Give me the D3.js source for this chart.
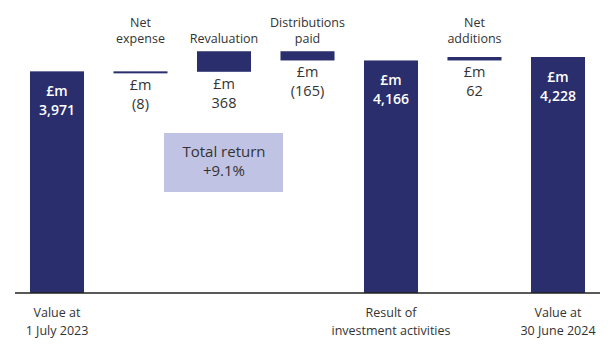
<!DOCTYPE html>
<html>
<head>
<meta charset="utf-8">
<script src="https://cdn.jsdelivr.net/npm/d3@7"></script>
<style>
  body { margin: 0; background: white; }
  text { font-family: "Open Sans", sans-serif; }
</style>
</head>
<body>
<div id="container"></div>
<script>
let w = 616;
let h = 352;

// data
let steps = ["start", "expense", "reval", "dist", "result", "additions", "end"];
let values = [3971, -8, 368, -165, 4166, 62, 4228];
let isTotal = [true, false, false, false, true, false, true];
let topLabels = [[], ["Net", "expense"], ["Revaluation"], ["Distributions", "paid"], [], ["Net", "additions"], []];
let valueLabels = ["3,971", "(8)", "368", "(165)", "4,166", "62", "4,228"];
let bottomLabels = [["Value at", "1 July 2023"], [], [], [], ["Result of", "investment activities"], [], ["Value at", "30 June 2024"]];
let totalReturn = ["Total return", "+9.1%"];

let navy = "#2a2e6c";
let textColor = "#333333";

let viz = d3.select("#container")
  .append("svg")
    .attr("width", w)
    .attr("height", h)
    .style("background-color", "white")
;

let xScale = d3.scaleBand().domain(steps).range([15.25, 599.75])
  .paddingInner(0.353).paddingOuter(0.1765);
let yScale = d3.scaleLinear().domain([0, 4228]).range([293, 57]);

// running totals for the floating bars
let running = 0;
let bars = values.map(function(v, i){
  let lo, hi;
  if (isTotal[i]) {
    lo = 0; hi = v; running = v;
  } else {
    let next = running + v;
    lo = Math.min(running, next);
    hi = Math.max(running, next);
    running = next;
  }
  return {step: steps[i], lo: lo, hi: hi, i: i};
});

function barTop(d){
  return yScale(d.hi);
}
function barHeight(d){
  return Math.max(2, yScale(d.lo) - yScale(d.hi));
}

let groups = viz.selectAll(".bar").data(bars).enter()
  .append("g")
    .classed("bar", true)
    .attr("transform", function(d){ return "translate(" + xScale(d.step) + ",0)"; })
;

groups.append("rect")
  .attr("x", 0)
  .attr("y", barTop)
  .attr("width", xScale.bandwidth())
  .attr("height", barHeight)
  .attr("fill", navy)
;

let cx = xScale.bandwidth() / 2;

// labels above the change bars
groups.each(function(d){
  let g = d3.select(this);
  let lines = topLabels[d.i];
  lines.forEach(function(t, k){
    g.append("text")
      .text(t)
      .attr("x", cx)
      .attr("y", 27 + k * 16 + (lines.length == 1 ? 16 : 0))
      .attr("text-anchor", "middle")
      .style("font-size", "12.5px")
      .attr("fill", textColor);
  });

  if (isTotal[d.i]) {
    let y0 = barTop(d) + 25;
    g.append("text").text("£m")
      .attr("x", cx).attr("y", y0)
      .attr("text-anchor", "middle")
      .style("font-size", "14px").style("font-weight", "600")
      .attr("fill", "white");
    g.append("text").text(valueLabels[d.i])
      .attr("x", cx).attr("y", y0 + 19)
      .attr("text-anchor", "middle")
      .style("font-size", "14px").style("font-weight", "600")
      .attr("fill", "white");
  } else {
    let y0 = barTop(d) + barHeight(d) + 17;
    g.append("text").text("£m")
      .attr("x", cx).attr("y", y0)
      .attr("text-anchor", "middle")
      .style("font-size", "14.5px")
      .attr("fill", textColor);
    g.append("text").text(valueLabels[d.i])
      .attr("x", cx).attr("y", y0 + 19)
      .attr("text-anchor", "middle")
      .style("font-size", "14.5px")
      .attr("fill", textColor);
  }

  bottomLabels[d.i].forEach(function(t, k){
    g.append("text")
      .text(t)
      .attr("x", cx)
      .attr("y", 317 + k * 18)
      .attr("text-anchor", "middle")
      .style("font-size", "12.5px")
      .attr("fill", textColor);
  });
});

// baseline
viz.append("line")
  .attr("x1", 15).attr("x2", 600)
  .attr("y1", 293).attr("y2", 293)
  .attr("stroke", "#222")
  .attr("stroke-width", 1.5)
;

// total return box, sits under the revaluation bar
let boxX = xScale("reval") + xScale.bandwidth() / 2;
viz.append("rect")
  .attr("x", boxX - 60)
  .attr("y", 133)
  .attr("width", 119)
  .attr("height", 59)
  .attr("fill", "#c0c3e4")
;
totalReturn.forEach(function(t, k){
  viz.append("text")
    .text(t)
    .attr("x", boxX)
    .attr("y", 157 + k * 19)
    .attr("text-anchor", "middle")
    .style("font-size", "15px")
    .attr("fill", textColor);
});
</script>
</body>
</html>
